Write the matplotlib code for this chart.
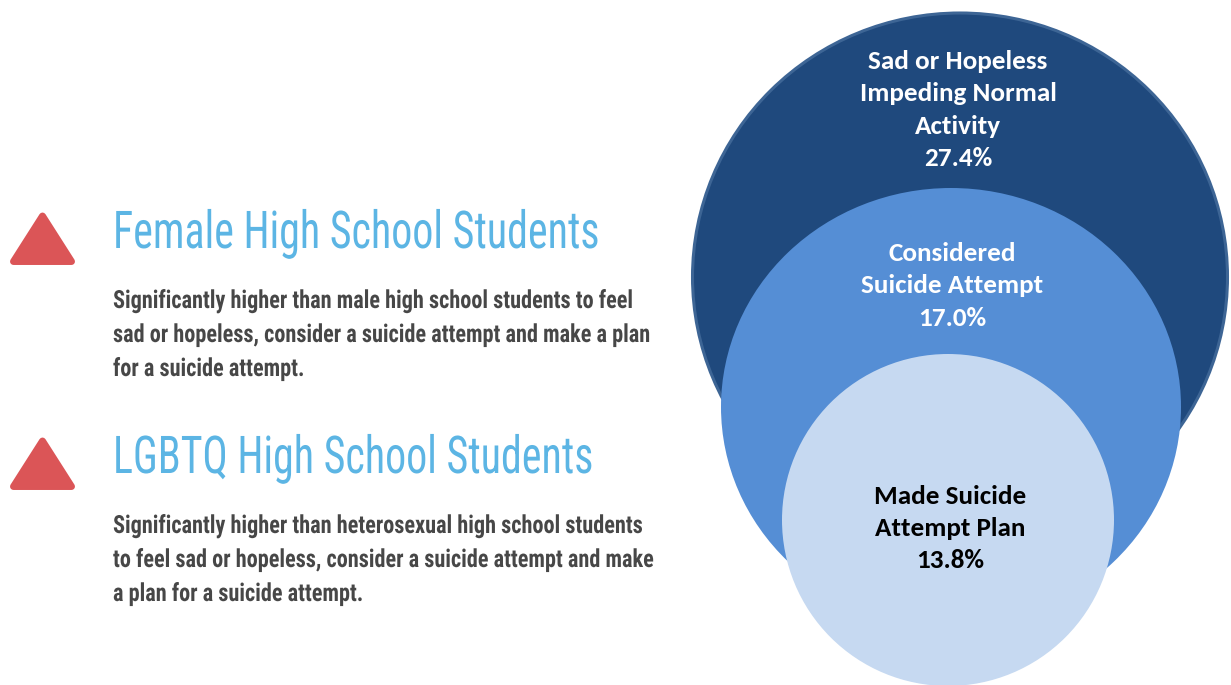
import matplotlib
matplotlib.use("Agg")
import matplotlib.pyplot as plt
from matplotlib.patches import Ellipse, Polygon
from matplotlib.patheffects import AbstractPathEffect
from matplotlib.transforms import Affine2D

W, H = 1231, 685

# left panel text
groups = ["Female High School Students", "LGBTQ High School Students"]
notes = [
    ["Significantly higher than male high school students to feel",
     "sad or hopeless, consider a suicide attempt and make a plan",
     "for a suicide attempt."],
    ["Significantly higher than heterosexual high school students",
     "to feel sad or hopeless, consider a suicide attempt and make",
     "a plan for a suicide attempt."],
]

# nested circles (outer -> inner)
measures = [["Sad or Hopeless", "Impeding Normal", "Activity"],
            ["Considered", "Suicide Attempt"],
            ["Made Suicide", "Attempt Plan"]]
percents = [27.4, 17.0, 13.8]


class Squeeze(AbstractPathEffect):
    """squash glyphs horizontally around x0 (data coords)"""
    def __init__(self, sx, x0):
        super().__init__()
        self.sx = sx
        self.x0 = x0

    def draw_path(self, renderer, gc, tpath, affine, rgbFace=None):
        x0 = ax.transData.transform((self.x0, 0))[0]
        sq = Affine2D().translate(-x0, 0).scale(self.sx, 1).translate(x0, 0)
        renderer.draw_path(gc, tpath, affine + sq, rgbFace)


fig = plt.figure(figsize=(W / 100, H / 100), dpi=100)
ax = fig.add_axes([0, 0, 1, 1])
ax.set_xlim(0, W)
ax.set_ylim(H, 0)
ax.axis('off')

cond = ['Roboto Condensed', 'DejaVu Sans']
calib = ['Carlito', 'DejaVu Sans']

# circles
circ = [((960, 277), 535, 528, '#1f497d', '#3d6595', 2.2),
        ((951, 407), 460, 438, '#558ed5', 'none', 0),
        ((948, 520), 332, 332, '#c6d9f1', 'none', 0)]
label_y = [61, 253, 496]
label_x = [958, 952, 950]
label_c = ['white', 'white', 'black']
for i, (c, w, h, fc, ec, lw) in enumerate(circ):
    ax.add_patch(Ellipse(c, w, h, facecolor=fc, edgecolor=ec, linewidth=lw))
    lines = measures[i] + [f"{percents[i]:.1f}%"]
    for j, s in enumerate(lines):
        ax.text(label_x[i], label_y[i] + j * 32.5, s, ha='center', va='center',
                fontfamily=calib, fontweight='bold', fontsize=19.5, color=label_c[i])

# left side
heads, bodies = [], []
for g in range(2):
    dy = g * 225
    ax.add_patch(Polygon([(42.5, 216 + dy), (71.5, 261.5 + dy), (13.5, 261.5 + dy)],
                         closed=True, facecolor='#db5557', edgecolor='#db5557',
                         linewidth=5, joinstyle='round'))
    heads.append(ax.text(113, 248 + dy, groups[g], ha='left', va='baseline',
                         fontfamily=cond, fontweight='normal', fontsize=37.5,
                         color='#5cb5e4'))
    for k, s in enumerate(notes[g]):
        bodies.append(ax.text(113, 308 + dy + k * 34, s, ha='left', va='baseline',
                              fontfamily=cond, fontweight='bold', fontsize=18,
                              color='#474747'))

# squash the left text to the widths seen in the picture
fig.canvas.draw()
sx_head = 487 / heads[0].get_window_extent().width
sx_body = 519 / bodies[0].get_window_extent().width
for t in heads:
    t.set_path_effects([Squeeze(sx_head, 113)])
for t in bodies:
    t.set_path_effects([Squeeze(sx_body, 113)])

fig.savefig("out.png", dpi=100, facecolor='white')
